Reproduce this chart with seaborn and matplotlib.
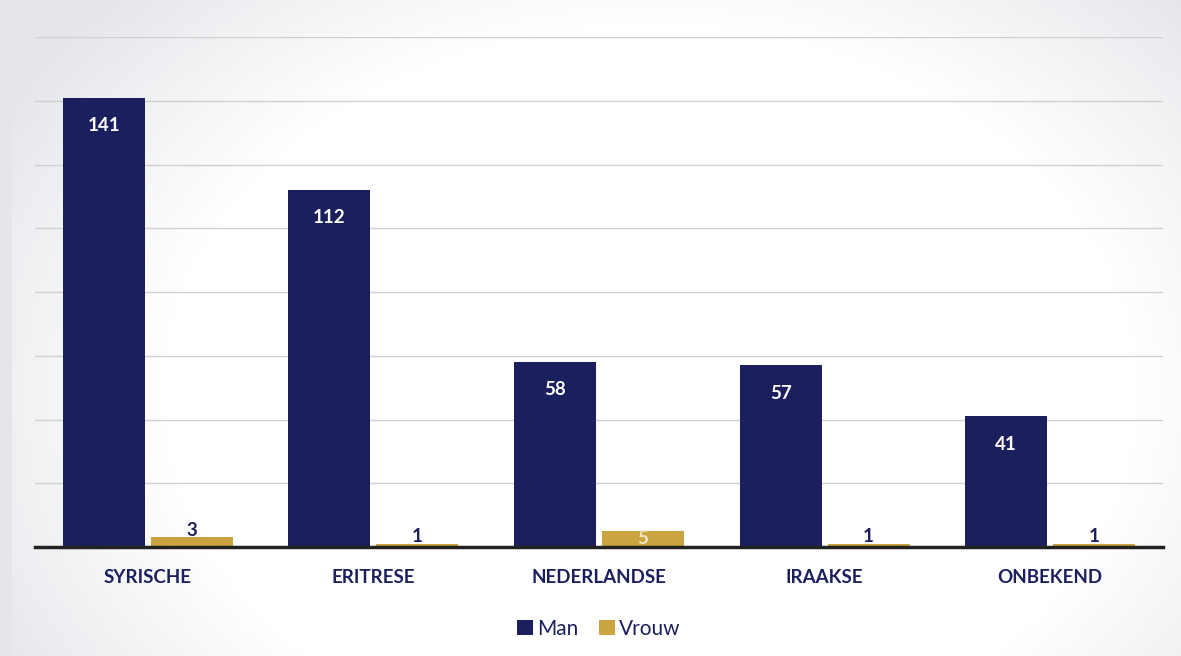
import numpy as np
import pandas as pd
import matplotlib
matplotlib.use("Agg")
import matplotlib.pyplot as plt
import seaborn as sns

# ----------------------------------
# Data
# ----------------------------------

categories = ["SYRISCHE", "ERITRESE", "NEDERLANDSE", "IRAAKSE", "ONBEKEND"]
man = [141, 112, 58, 57, 41]
vrouw = [3, 1, 5, 1, 1]

navy = "#1b1f5e"
gold = "#c9a440"

df = pd.DataFrame({
    "nationaliteit": categories * 2,
    "geslacht": ["Man"] * len(categories) + ["Vrouw"] * len(categories),
    "aantal": man + vrouw,
})

sns.set_style("white")
plt.rcParams["font.family"] = ["Lato", "DejaVu Sans"]

fig = plt.figure(figsize=(11.81, 6.56), dpi=100)
fig.patch.set_facecolor("#ffffff")

# scanned-paper shading (light grey edges)
h, w = 656, 1181
yy, xx = np.mgrid[0:h, 0:w]
d = np.sqrt(((xx - w * 0.55) / (w * 0.55)) ** 2 + ((yy - h * 0.6) / (h * 0.75)) ** 2)
shade = np.clip((d - 0.75) * 0.25, 0, 0.1)
shade[:, :12] = 0.1
img = np.ones((h, w, 3))
img[..., 0] -= shade * 1.0
img[..., 1] -= shade * 0.95
img[..., 2] -= shade * 0.8
fig.figimage(img, 0, 0, zorder=0)

ax = fig.add_axes([35 / 1181, 109 / 656, 1128 / 1181, 510 / 656])
ax.set_zorder(2)
ax.set_facecolor("none")

sns.barplot(
    data=df,
    x="nationaliteit",
    y="aantal",
    hue="geslacht",
    palette={"Man": navy, "Vrouw": gold},
    width=0.78,
    gap=0.07,
    saturation=1,
    linewidth=0,
    ax=ax,
    zorder=3,
)

ax.set_ylim(0, 160)
ax.set_xlim(-0.5, len(categories) - 0.5)
ax.set_yticks(np.arange(0, 161, 20))
ax.yaxis.grid(True, color="#d0d0d0", linewidth=1.0, zorder=0)
ax.set_axisbelow(True)
ax.tick_params(axis="y", left=False, labelleft=False)
ax.tick_params(axis="x", bottom=False, pad=12, labelsize=13.5, labelcolor=navy)
for lab in ax.get_xticklabels():
    lab.set_fontweight("bold")
ax.set_xlabel("")
ax.set_ylabel("")
for s in ["top", "right", "left"]:
    ax.spines[s].set_visible(False)
ax.spines["bottom"].set_color("#222222")
ax.spines["bottom"].set_linewidth(2.5)
ax.spines["bottom"].set_zorder(5)

# ----------------------------------
# Value labels
# ----------------------------------

man_bars, vrouw_bars = ax.containers[0], ax.containers[1]
for bar, v in zip(man_bars, man):
    ax.annotate(str(v), (bar.get_x() + bar.get_width() / 2, bar.get_height()),
                xytext=(0, -20), textcoords="offset points", ha="center", va="center",
                color="white", fontsize=13.5, fontweight="bold", zorder=6)
for bar, v in zip(vrouw_bars, vrouw):
    x = bar.get_x() + bar.get_width() / 2
    if v >= 5:
        ax.annotate(str(v), (x, bar.get_height()), xytext=(0, -5),
                    textcoords="offset points", ha="center", va="center",
                    color="#f3e6c2", fontsize=13.5, fontweight="bold", zorder=6)
    else:
        ax.annotate(str(v), (x, bar.get_height()), xytext=(0, 5),
                    textcoords="offset points", ha="center", va="center",
                    color=navy, fontsize=13.5, fontweight="bold", zorder=6)

leg = ax.legend(loc="upper center", bbox_to_anchor=(0.5, -0.104), ncol=2, frameon=False,
                fontsize=15, handlelength=0.75, handleheight=0.75, handletextpad=0.2,
                columnspacing=1.0)
for t in leg.get_texts():
    t.set_color(navy)

fig.savefig("out.png", dpi=100)
